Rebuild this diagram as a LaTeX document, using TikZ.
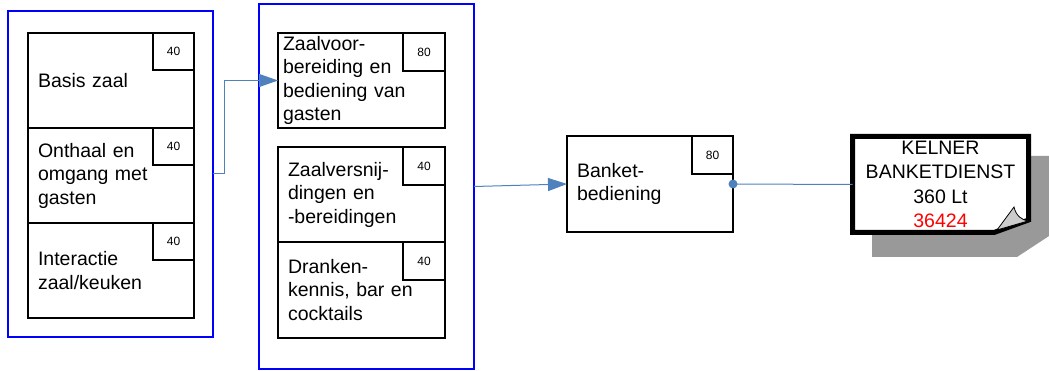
\documentclass[tikz,border=0pt]{standalone}
\usepackage{fontspec}
\setmainfont{Liberation Sans}
\usetikzlibrary{positioning,arrows.meta}
\definecolor{grpblue}{RGB}{0,0,255}
\definecolor{linkblue}{RGB}{79,129,189}
\def\boxfont{\fontsize{19.5}{23.5}\selectfont}
\def\pts#1#2#3{\node[badge] (#1) at (#2.north east) {#3};}
\tikzset{
  grp/.style={draw=grpblue,line width=2pt,anchor=north west,inner sep=0pt,outer sep=0pt},
  unit/.style={draw,line width=1.5pt,anchor=north west,inner xsep=10pt,inner ysep=0pt,
    outer sep=0pt,text width=146pt,align=left,minimum height=95pt,font=\boxfont},
  badge/.style={draw,line width=1.5pt,anchor=north east,minimum width=41pt,
    minimum height=37pt,inner sep=0pt,outer sep=0pt,font=\fontsize{12}{12}\selectfont},
  bigbadge/.style={badge,minimum width=42pt,minimum height=38pt},
  link/.style={draw=linkblue,line width=1pt,-{Triangle[length=19pt,width=13pt]}}
}

\begin{document}
\begin{tikzpicture}[x=1pt,y=-1pt]
  \useasboundingbox (0,0) rectangle (1049,371);
  % groups
  \node[grp,minimum width=205pt,minimum height=326pt] (lg) at (8,11) {};
  \node[grp,minimum width=215pt,minimum height=365pt] (mg) at (259,4) {};
  % left modules
  \node[unit] (b1) at (28,33) {Basis zaal};
  \node[unit,below=0pt of b1] (b2) {Onthaal en\\omgang met\\gasten};
  \node[unit,below=0pt of b2] (b3) {Interactie\\zaal/keuken};
  \pts{p1}{b1}{40}
  \pts{p2}{b2}{40}
  \pts{p3}{b3}{40}
  % middle modules
  \node[unit,inner xsep=5pt,text width=157pt] (m1) at (278,33)
    {Zaalvoor-\\bereiding en\\bediening van\\gasten};
  \node[unit,text width=147pt] (m2) at (278,147) {Zaalversnij-\\dingen en\\-bereidingen};
  \node[unit,text width=147pt,minimum height=96pt,below=0pt of m2] (m3)
    {Dranken-\\kennis, bar en\\cocktails};
  \node[bigbadge] (q1) at (m1.north east) {80};
  \node[bigbadge] (q2) at (m2.north east) {40};
  \node[bigbadge] (q3) at (m3.north east) {40};
  % banket
  \node[unit,minimum height=96pt] (bk) at (567,136) {Banket-\\bediening};
  \node[badge,minimum height=38pt] (pb) at (bk.north east) {80};
  % end certificate
  \fill[black!40] (872,156) -- (1049,156) -- (1049,236) -- (1017,257) -- (872,257) -- cycle;
  \draw[line width=5pt,fill=white,line join=miter]
    (852.5,136.5) -- (1028.5,136.5) -- (1028.5,220) -- (994,232.5) -- (852.5,232.5) -- cycle;
  \filldraw[fill=black!20,line width=0.8pt]
    (997,230) -- (1014,207) .. controls (1016,216) and (1022,220) .. (1028,221) -- cycle;
  \node[minimum width=176pt,minimum height=96pt,inner sep=0pt,outer sep=0pt,align=center,
    font=\fontsize{19.5}{24.5}\selectfont] (kel) at (940.5,184.5)
    {KELNER\\BANKETDIENST\\360 Lt\\\textcolor{red}{36424}};
  % connectors
  \draw[link] (lg.east) -- ++(11,0) |- (m1.west);
  \draw[link] (mg.east) -- (bk.west);
  \draw[draw=linkblue,line width=1pt] (bk.east) -- (kel.west);
  \fill[linkblue] (bk.east) circle[radius=4.5pt];
\end{tikzpicture}
\end{document}
